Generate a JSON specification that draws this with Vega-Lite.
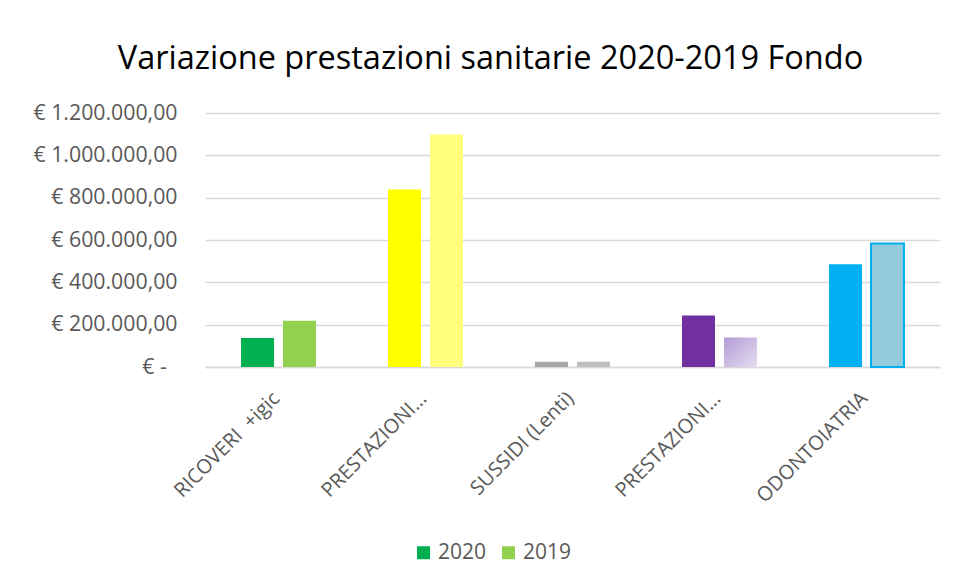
{
  "$schema": "https://vega.github.io/schema/vega-lite/v6.json",
  "width": 735,
  "height": 254,
  "autosize": {"type": "none"},
  "padding": {"left": 205, "top": 113, "right": 19, "bottom": 216},
  "background": "white",
  "config": {
    "locale": {"number": {"decimal": ",", "thousands": ".", "grouping": [3], "currency": ["€ ", ""]}},
    "view": {"stroke": null},
    "font": "Open Sans"
  },
  "title": {
    "text": "Variazione prestazioni sanitarie 2020-2019 Fondo",
    "fontSize": 32.5,
    "fontWeight": "normal",
    "color": "#000000",
    "font": "Open Sans",
    "anchor": "middle",
    "baseline": "alphabetic",
    "offset": 1,
    "dx": -82
  },
  "data": {
    "values": [
      {"categoria": "RICOVERI  +igic", "anno": "2020", "importo": 137000},
      {"categoria": "RICOVERI  +igic", "anno": "2019", "importo": 218000},
      {"categoria": "PRESTAZIONI...", "anno": "2020", "importo": 838000},
      {"categoria": "PRESTAZIONI...", "anno": "2019", "importo": 1099000},
      {"categoria": "SUSSIDI (Lenti)", "anno": "2020", "importo": 25000},
      {"categoria": "SUSSIDI (Lenti)", "anno": "2019", "importo": 25000},
      {"categoria": "PRESTAZIONI...\u200b", "anno": "2020", "importo": 243000},
      {"categoria": "PRESTAZIONI...\u200b", "anno": "2019", "importo": 139000},
      {"categoria": "ODONTOIATRIA", "anno": "2020", "importo": 485000},
      {"categoria": "ODONTOIATRIA", "anno": "2019", "importo": 583000}
    ]
  },
  "transform": [{"calculate": "datum.categoria + '|' + datum.anno", "as": "key"}],
  "mark": {"type": "bar", "strokeWidth": 2},
  "encoding": {
    "x": {
      "field": "categoria",
      "type": "nominal",
      "sort": null,
      "scale": {"paddingInner": 0.49, "paddingOuter": 0.245},
      "axis": {
        "title": null,
        "labelAngle": -45,
        "labelFontSize": 20,
        "labelColor": "#595959",
        "labelPadding": 21,
        "labelOffset": -9,
        "labelExpr": "replace(datum.label, '  ', ' \u00a0')",
        "ticks": false,
        "domainColor": "#d9d9d9",
        "domainWidth": 1.5,
        "labelLimit": 400
      }
    },
    "xOffset": {
      "field": "anno",
      "type": "nominal",
      "sort": ["2020", "2019"],
      "scale": {"paddingInner": 0.214, "paddingOuter": 0}
    },
    "y": {
      "field": "importo",
      "type": "quantitative",
      "scale": {"domain": [0, 1200000], "nice": false},
      "axis": {
        "title": null,
        "values": [0, 200000, 400000, 600000, 800000, 1000000, 1200000],
        "format": "$,.2f",
        "labelExpr": "datum.value === 0 ? '€ -\u2002\u200b' : datum.label",
        "labelFontSize": 21.3,
        "labelColor": "#595959",
        "labelPadding": 28,
        "ticks": false,
        "domain": false,
        "gridColor": "#d9d9d9",
        "gridWidth": 1.5
      }
    },
    "fill": {
      "condition": {
        "test": "datum.key === 'PRESTAZIONI...\u200b|2019'",
        "value": {"gradient": "linear", "x1": 0, "y1": 0, "x2": 1, "y2": 1, "stops": [{"offset": 0, "color": "#B49CD6"}, {"offset": 1, "color": "#E4DDF0"}]}
      },
      "field": "key",
      "type": "nominal",
      "scale": {
        "domain": ["RICOVERI  +igic|2020", "RICOVERI  +igic|2019", "PRESTAZIONI...|2020", "PRESTAZIONI...|2019", "SUSSIDI (Lenti)|2020", "SUSSIDI (Lenti)|2019", "PRESTAZIONI...\u200b|2020", "PRESTAZIONI...\u200b|2019", "ODONTOIATRIA|2020", "ODONTOIATRIA|2019"],
        "range": ["#00B050", "#92D050", "#FFFF00", "#FFFF7D", "#A6A6A6", "#BFBFBF", "#7030A0", "#C9B8E2", "#00B0F0", "#93CDDD"]
      },
      "legend": {
        "title": null,
        "values": ["RICOVERI  +igic|2020", "RICOVERI  +igic|2019"],
        "labelExpr": "split(datum.label, '|')[1]",
        "orient": "none",
        "direction": "horizontal",
        "legendX": 208,
        "legendY": 429,
        "symbolType": "square",
        "symbolSize": 169,
        "symbolStrokeWidth": 0,
        "labelFontSize": 21,
        "labelColor": "#595959",
        "columnPadding": 11,
        "labelOffset": 4
      }
    },
    "stroke": {
      "condition": {"test": "datum.key === 'ODONTOIATRIA|2019'", "value": "#00B0F0"},
      "value": null
    }
  }
}
